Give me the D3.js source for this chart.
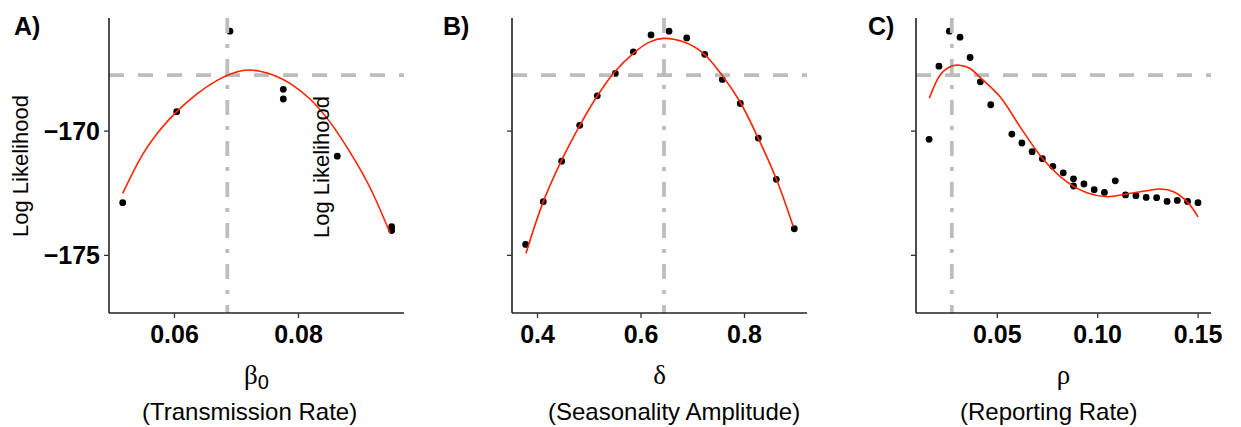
<!DOCTYPE html>
<html><head><meta charset="utf-8">
<script src="https://cdn.jsdelivr.net/npm/d3@7"></script>
<style>body{margin:0;background:#fff} svg{display:block}</style>
</head><body>
<svg id="chart" width="1241" height="427"></svg>
<script>
// ---------- data ----------
const panelLabels = ["A)", "B)", "C)"];
const paramSymbols = ["β", "δ", "ρ"];
const paramSubs = ["0", "", ""];
const paramNames = ["(Transmission Rate)", "(Seasonality Amplitude)", "(Reporting Rate)"];

const yTicks = [-170, -175];
const yDomain = [-177.34, -165.47];
const cutoffLL = -167.77;

const aTicks = [0.06, 0.08];
const aDomain = [0.04952, 0.0971];
const aMLE = 0.0686;
const aX = [0.05173, 0.06044, 0.06903, 0.07763, 0.07763, 0.08634, 0.09511, 0.09511];
const aY = [-172.90, -169.24, -166.00, -168.34, -168.73, -171.03, -173.87, -174.02];
const aFitX = [0.05173, 0.05505, 0.05774, 0.06044, 0.06366, 0.06689, 0.06903, 0.07145, 0.07387, 0.07629, 0.07871, 0.08194, 0.08516, 0.08839, 0.09161, 0.09484];
const aFitY = [-172.53, -170.92, -169.98, -169.24, -168.53, -167.99, -167.73, -167.57, -167.61, -167.79, -168.10, -168.73, -169.66, -170.87, -172.29, -174.12];

const bTicks = [0.4, 0.6, 0.8];
const bDomain = [0.35169, 0.92174];
const bMLE = 0.6454;
const bX = [0.378, 0.4122, 0.4477, 0.4825, 0.5165, 0.5513, 0.5861, 0.6203, 0.6551, 0.6893, 0.7241, 0.7581, 0.7929, 0.8276, 0.8624, 0.8972];
const bY = [-174.58, -172.86, -171.23, -169.79, -168.60, -167.70, -166.83, -166.15, -166.00, -166.27, -166.93, -167.94, -168.91, -170.30, -171.96, -173.95];
const bFitX = [0.3787, 0.4122, 0.4477, 0.4831, 0.5154, 0.5474, 0.5861, 0.6184, 0.6441, 0.6827, 0.7214, 0.7600, 0.7923, 0.8276, 0.8632, 0.8953];
const bFitY = [-174.94, -172.86, -171.19, -169.78, -168.64, -167.70, -166.89, -166.43, -166.29, -166.43, -166.89, -167.84, -168.84, -170.31, -171.99, -173.87];

const cTicks = [0.05, 0.10, 0.15];
const cDomain = [0.00977, 0.15668];
const cMLE = 0.0276;
const cX = [0.0163, 0.0212, 0.0264, 0.0317, 0.0367, 0.0418, 0.0470, 0.0575, 0.0625, 0.0676, 0.0727, 0.0779, 0.0831, 0.0882, 0.0882, 0.0934, 0.0985, 0.1036, 0.1090, 0.1141, 0.1193, 0.1244, 0.1296, 0.1348, 0.1399, 0.1450, 0.1502];
const cY = [-170.35, -167.41, -166.00, -166.24, -167.06, -168.04, -168.96, -170.14, -170.50, -170.85, -171.13, -171.44, -171.70, -171.94, -172.23, -172.15, -172.38, -172.49, -172.02, -172.59, -172.62, -172.69, -172.70, -172.85, -172.81, -172.85, -172.90];
const cFitX = [0.0164, 0.02173, 0.02675, 0.03136, 0.03671, 0.04167, 0.05165, 0.06162, 0.07323, 0.0849, 0.09487, 0.10484, 0.11481, 0.12478, 0.13141, 0.13804, 0.14472, 0.1502];
const cFitY = [-168.70, -167.77, -167.43, -167.37, -167.50, -167.86, -168.64, -169.85, -171.16, -172.06, -172.50, -172.66, -172.55, -172.42, -172.35, -172.46, -172.86, -173.47];

// ---------- layout ----------
const svg = d3.select("#chart");
const plotTop = 18, plotBottom = 313, plotW = 295;
const lefts = [109, 512, 916];
const panels = [
  {ticks: aTicks, domain: aDomain, mle: aMLE, x: aX, y: aY, fx: aFitX, fy: aFitY, fmt: d3.format(".2f"), showY: true, subX: 142},
  {ticks: bTicks, domain: bDomain, mle: bMLE, x: bX, y: bY, fx: bFitX, fy: bFitY, fmt: d3.format(".1f"), showY: false, subX: 548},
  {ticks: cTicks, domain: cDomain, mle: cMLE, x: cX, y: cY, fx: cFitX, fy: cFitY, fmt: d3.format(".2f"), showY: false, subX: 960}
];
const titleX = [14, 443, 868];

const yScale = d3.scaleLinear().domain(yDomain).range([plotBottom, plotTop]);

panels.forEach((p, i) => {
  const L = lefts[i];
  const x = d3.scaleLinear().domain(p.domain).range([L, L + plotW]);
  const g = svg.append("g");

  // points
  g.selectAll("circle").data(p.x.map((v, k) => [v, p.y[k]])).join("circle")
    .attr("cx", d => x(d[0])).attr("cy", d => yScale(d[1])).attr("r", 3.4).attr("fill", "#000");

  // reference lines
  g.append("line").attr("x1", L).attr("x2", L + plotW).attr("y1", yScale(cutoffLL)).attr("y2", yScale(cutoffLL))
    .attr("stroke", "#bdbdbd").attr("stroke-width", 3.8).attr("stroke-dasharray", "15,14");
  g.append("line").attr("x1", x(p.mle)).attr("x2", x(p.mle)).attr("y1", plotTop).attr("y2", plotBottom)
    .attr("stroke", "#bdbdbd").attr("stroke-width", 3.8).attr("stroke-dasharray", "15,11,4,11");

  // fitted curve
  const line = d3.line().x(d => x(d[0])).y(d => yScale(d[1])).curve(d3.curveCatmullRom.alpha(0.5));
  g.append("path").datum(p.fx.map((v, k) => [v, p.fy[k]])).attr("d", line)
    .attr("fill", "none").attr("stroke", "#ff2200").attr("stroke-width", 1.6);

  // axes
  const xa = g.append("g").attr("transform", `translate(0,${plotBottom})`)
    .call(d3.axisBottom(x).tickValues(p.ticks).tickFormat(p.fmt).tickSize(5).tickPadding(4));
  const ya = g.append("g").attr("transform", `translate(${L},0)`)
    .call(d3.axisLeft(yScale).tickValues(yTicks).tickFormat(p.showY ? d3.format("d") : "").tickSize(5).tickPadding(4));
  [xa, ya].forEach(a => {
    a.select(".domain").attr("stroke", "#222").attr("stroke-width", 1.6);
    a.selectAll(".tick line").attr("stroke", "#333").attr("stroke-width", 1.3);
    a.selectAll(".tick text").attr("fill", "#000").style("font-family", "Liberation Sans, Arial, sans-serif")
      .style("font-weight", "bold").style("font-size", "25px");
  });
  xa.select(".domain").attr("d", `M${L},0H${L + plotW}`);
  ya.select(".domain").attr("d", `M0,${plotTop}V${plotBottom}`);
  xa.selectAll(".tick text").attr("dy", null).attr("y", 30);
  ya.selectAll(".tick text").attr("dy", "0.36em");

  // panel title
  svg.append("text").attr("x", titleX[i]).attr("y", 35).text(panelLabels[i])
    .style("font-family", "Liberation Sans, Arial, sans-serif").style("font-weight", "bold").style("font-size", "25px");

  // x label: symbol
  const cx = L + plotW / 2;
  const t = svg.append("text").attr("x", cx).attr("y", 384).attr("text-anchor", "middle")
    .style("font-family", "Liberation Serif, Times New Roman, serif").style("font-size", "27px");
  t.append("tspan").text(paramSymbols[i]);
  if (paramSubs[i]) t.append("tspan").attr("dy", 5).style("font-family", "Liberation Sans, Arial, sans-serif").style("font-size", "20px").text(paramSubs[i]);

  svg.append("text").attr("x", p.subX).attr("y", 420).text(paramNames[i])
    .style("font-family", "Liberation Sans, Arial, sans-serif").style("font-size", "24px");
});

// y-axis titles (two copies, as in the original)
[[28, 166], [329, 167]].forEach(([tx, ty]) => {
  svg.append("text").attr("transform", `translate(${tx},${ty}) rotate(-90)`).attr("text-anchor", "middle")
    .style("font-family", "Liberation Sans, Arial, sans-serif").style("font-size", "22px").text("Log Likelihood");
});
</script>
</body></html>
